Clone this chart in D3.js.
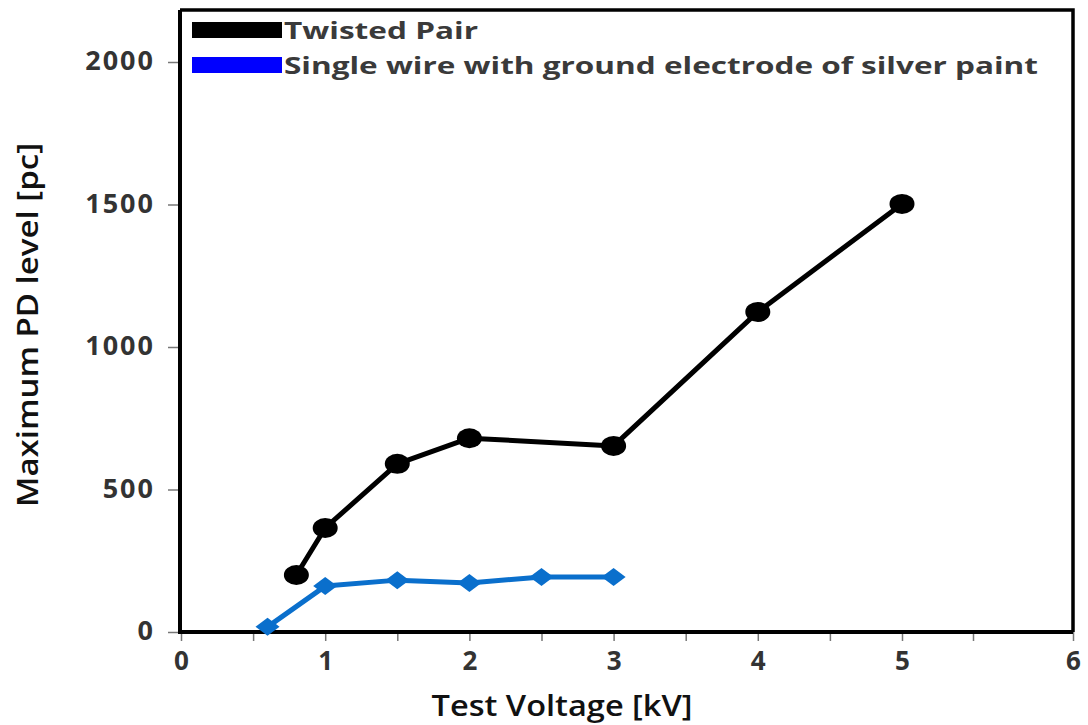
<!DOCTYPE html>
<html>
<head>
<meta charset="utf-8">
<script src="https://cdn.jsdelivr.net/npm/d3@7"></script>
<style>
  html, body { margin: 0; padding: 0; background: #fff; }
  svg { display: block; }
  text { font-family: "Open Sans", "DejaVu Sans", sans-serif; }
</style>
</head>
<body>
<svg id="chart" width="1088" height="725"></svg>
<script>
// ---- data ----
const seriesNames = ["Twisted Pair", "Single wire with ground electrode of silver paint"];
const twistedX = [0.8, 1.0, 1.5, 2.0, 3.0, 4.0, 5.0];
const twistedY = [200, 365, 590, 680, 653, 1123, 1502];
const singleX = [0.6, 1.0, 1.5, 2.0, 2.5, 3.0];
const singleY = [18, 161, 182, 172, 193, 193];
const xTickValues = [0, 1, 2, 3, 4, 5, 6];
const xMinorTicks = [0.5, 1.5, 2.5, 3.5, 4.5, 5.5];
const yTickValues = [0, 500, 1000, 1500, 2000];
const xTitle = "Test Voltage [kV]";
const yTitle = "Maximum PD level [pc]";

const svg = d3.select("#chart");
const pLeft = 180, pRight = 1073, pTop = 10, pBottom = 632;

const x = d3.scaleLinear().domain([0, 5, 5.5, 6]).range([181, 902, 973, 1073]);
const y = d3.scaleLinear().domain([0, 2000]).range([pBottom, 62]);

// frame (top and right)
svg.append("path")
  .attr("d", `M${pLeft},${pTop}H${pRight}V${pBottom}`)
  .attr("fill", "none").attr("stroke", "#000").attr("stroke-width", 3.5);

// y axis
const yAxis = svg.append("g").attr("transform", `translate(${pLeft},0)`)
  .call(d3.axisLeft(y).tickValues(yTickValues).tickSize(12).tickPadding(13).tickFormat(d3.format("d")));
yAxis.select(".domain").remove();
yAxis.selectAll(".tick line").attr("stroke", "#777").attr("stroke-width", 1.5);
yAxis.selectAll(".tick text").attr("font-size", 27).attr("font-weight", "bold")
  .attr("fill", "#333").attr("font-family", "DejaVu Sans, sans-serif").attr("letter-spacing", 2)
  .attr("dy", "0.28em");

// x axis
const xAxis = svg.append("g").attr("transform", `translate(0,${pBottom})`)
  .call(d3.axisBottom(x).tickValues(xTickValues).tickSize(9).tickPadding(11).tickFormat(d3.format("d")));
xAxis.select(".domain").remove();
xAxis.selectAll(".tick line").attr("stroke", "#777").attr("stroke-width", 1.5);
xAxis.selectAll(".tick text").attr("font-size", 26).attr("font-weight", "bold")
  .attr("fill", "#333").attr("font-family", "DejaVu Sans, sans-serif");
svg.append("g").attr("transform", `translate(0,${pBottom})`)
  .call(d3.axisBottom(x).tickValues(xMinorTicks).tickSize(9).tickFormat(""))
  .call(g => g.select(".domain").remove())
  .selectAll(".tick line").attr("stroke", "#777").attr("stroke-width", 1.5);

// axis lines
svg.append("path")
  .attr("d", `M${pLeft},${pTop}V${pBottom}H${pRight}`)
  .attr("fill", "none").attr("stroke", "#000").attr("stroke-width", 4);

// lines
const line = d3.line().x(d => x(d[0])).y(d => y(d[1]));
const twisted = twistedX.map((v, i) => [v, twistedY[i]]);
const single = singleX.map((v, i) => [v, singleY[i]]);

svg.append("path").datum(single).attr("d", line)
  .attr("fill", "none").attr("stroke", "#0a6fcc").attr("stroke-width", 5).attr("stroke-linejoin", "round");
svg.append("g").selectAll("path").data(single).join("path")
  .attr("d", "M0,-9L12,0L0,9L-12,0Z")
  .attr("transform", d => `translate(${x(d[0])},${y(d[1])})`)
  .attr("fill", "#0a6fcc");

svg.append("path").datum(twisted).attr("d", line)
  .attr("fill", "none").attr("stroke", "#000").attr("stroke-width", 5).attr("stroke-linejoin", "round");
svg.append("g").selectAll("ellipse").data(twisted).join("ellipse")
  .attr("cx", d => x(d[0])).attr("cy", d => y(d[1]))
  .attr("rx", 12.5).attr("ry", 10).attr("fill", "#000");

// legend
const legendColors = ["#000000", "#0000ff"];
const legendTextLen = [194, 754];
const lg = svg.append("g");
seriesNames.forEach((name, i) => {
  const yy = 22 + i * 35;
  lg.append("rect").attr("x", 192).attr("y", yy).attr("width", 90).attr("height", 16).attr("fill", legendColors[i]);
  lg.append("text").attr("x", 284).attr("y", yy + 17)
    .attr("font-size", 23).attr("font-weight", "bold").attr("fill", "#3a3a3a")
    .attr("font-family", "DejaVu Sans, sans-serif")
    .attr("textLength", legendTextLen[i]).attr("lengthAdjust", "spacingAndGlyphs")
    .text(name);
});

// axis titles
svg.append("text").attr("x", 562).attr("y", 716).attr("text-anchor", "middle")
  .attr("font-size", 29).attr("font-weight", 600).attr("fill", "#111")
  .attr("textLength", 261).attr("lengthAdjust", "spacingAndGlyphs")
  .text(xTitle);
svg.append("text").attr("transform", "translate(38,325) rotate(-90)").attr("text-anchor", "middle")
  .attr("font-size", 29).attr("font-weight", 600).attr("fill", "#111")
  .attr("textLength", 364).attr("lengthAdjust", "spacingAndGlyphs")
  .text(yTitle);
</script>
</body>
</html>
